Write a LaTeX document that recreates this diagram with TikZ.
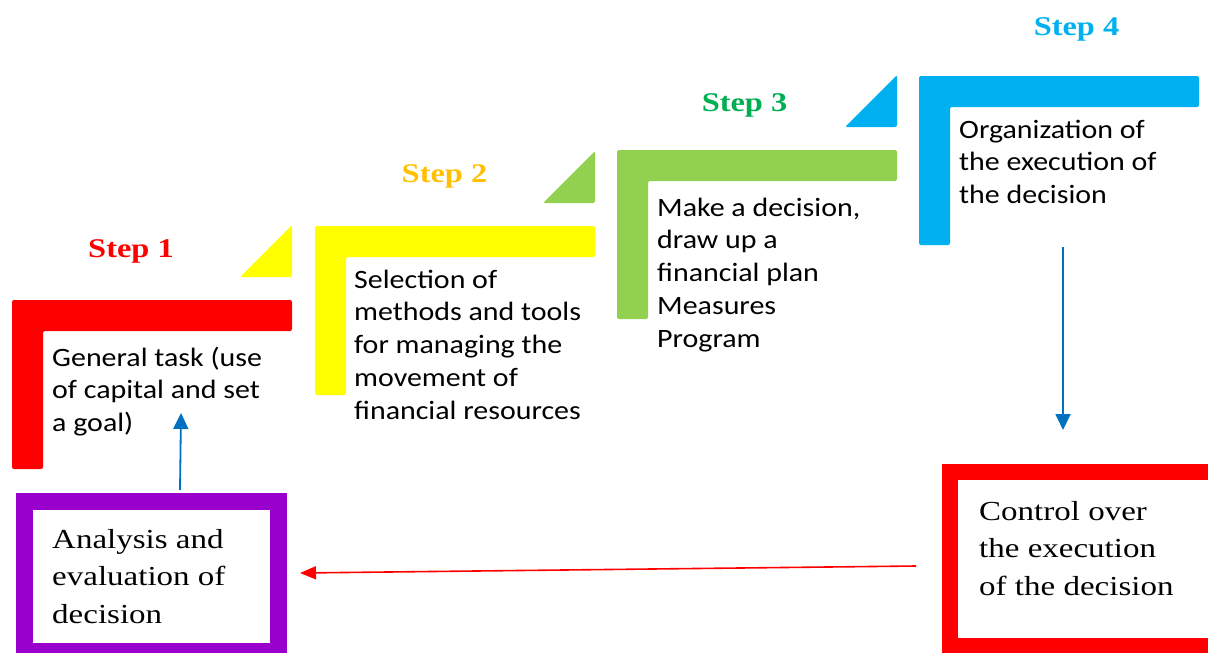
\documentclass[tikz,border=0pt]{standalone}
\usepackage{fontspec}
\usetikzlibrary{arrows.meta}
\newfontfamily\bodyfont[FakeStretch=1.13]{Carlito}
\newfontfamily\serifbox[FakeStretch=1.2]{Liberation Serif}
\definecolor{cRed}{HTML}{FF0000}
\definecolor{cYellow}{HTML}{FFFF00}
\definecolor{cGreen}{HTML}{92D050}
\definecolor{cBlue}{HTML}{00B0F0}
\definecolor{cOrange}{HTML}{FFC000}
\definecolor{cDGreen}{HTML}{00B050}
\definecolor{cPurple}{HTML}{9900CC}
\definecolor{cArrow}{HTML}{0070C0}
\tikzset{
  bodytext/.style={anchor=base west, inner sep=0pt, text=black, font=\bodyfont\fontsize{26.5}{32.8}\selectfont},
  boxtext/.style={anchor=base west, inner sep=0pt, text=black, font=\serifbox\fontsize{27.5}{37.8}\selectfont},
  steplabel/.style={anchor=base, inner sep=0pt, font=\serifbox\bfseries\fontsize{27}{32}\selectfont},
  framebox/.style={line width=16.5pt, minimum width=#1, inner sep=0pt, fill=white},
  blueconn/.style={draw=cArrow, line width=1.8pt, -{Triangle[length=16pt,width=15pt]}},
  redconn/.style={draw=cRed, line width=1.6pt, -{Triangle[length=16pt,width=13pt]}},
}
\begin{document}
\begin{tikzpicture}[x=1pt,y=-1pt]
\useasboundingbox (0,0) rectangle (1208,653);
\clip (0,0) rectangle (1208,653);
% L shapes
\foreach \X/\Y/\c in {12/300/cRed, 315/226/cYellow, 617/150/cGreen, 919/76/cBlue}{
  \fill[\c, shift={(\X,\Y)}, rounded corners=2pt]
    (0,0) -- (280,0) -- (280,31) -- (31,31) -- (31,169) -- (0,169) -- cycle;
}
% corner triangles
\foreach \X/\Y/\c in {12/300/cYellow, 315/226/cGreen, 617/150/cBlue}{
  \fill[\c, shift={(\X,\Y)}, rounded corners=2pt]
    (228,-23) -- (280,-23) -- (280,-75) -- cycle;
}
% step labels
\node[steplabel, text=cRed] (l1) at (131,257) {Step 1};
\node[steplabel, text=cOrange] (l2) at (444.5,182) {Step 2};
\node[steplabel, text=cDGreen] (l3) at (744.5,111) {Step 3};
\node[steplabel, text=cBlue] (l4) at (1076.5,35) {Step 4};
% step texts
\node[bodytext] (t1) at (52,366) {\begin{tabular}[t]{@{}l@{}}General task (use\\of capital and set\\a goal)\end{tabular}};
\node[bodytext] (t2) at (354,288) {\begin{tabular}[t]{@{}l@{}}Selection of\\methods and tools\\for managing the\\movement of\\financial resources\end{tabular}};
\node[bodytext] (t3) at (657,216) {\begin{tabular}[t]{@{}l@{}}Make a decision,\\draw up a\\financial plan\\Measures\\Program\end{tabular}};
\node[bodytext] (t4) at (959,138) {\begin{tabular}[t]{@{}l@{}}Organization of\\the execution of\\the decision\end{tabular}};
% framed boxes
\node[framebox=254pt, draw=cPurple, minimum height=150pt] (anabox) at (151.5,576.5) {};
\node[framebox=267pt, draw=cRed, minimum height=174pt] (ctrlbox) at (1083.5,559) {};
\node[boxtext] (anatext) at (52,548) {\begin{tabular}[t]{@{}l@{}}Analysis and\\evaluation of\\decision\end{tabular}};
\node[boxtext] (ctrltext) at (979,520) {\begin{tabular}[t]{@{}l@{}}Control over\\the execution\\of the decision\end{tabular}};
% connectors
\coordinate (downStart) at (1063,247);
\coordinate (downEnd) at (1063,430);
\coordinate (upStart) at (180,490);
\coordinate (upEnd) at (181,413);
\coordinate (leftStart) at (916,566);
\coordinate (leftEnd) at (300,573);
\draw[blueconn] (downStart) -- (downEnd);
\draw[blueconn] (upStart) -- (upEnd);
\draw[redconn] (leftStart) -- (leftEnd);
\end{tikzpicture}
\end{document}
